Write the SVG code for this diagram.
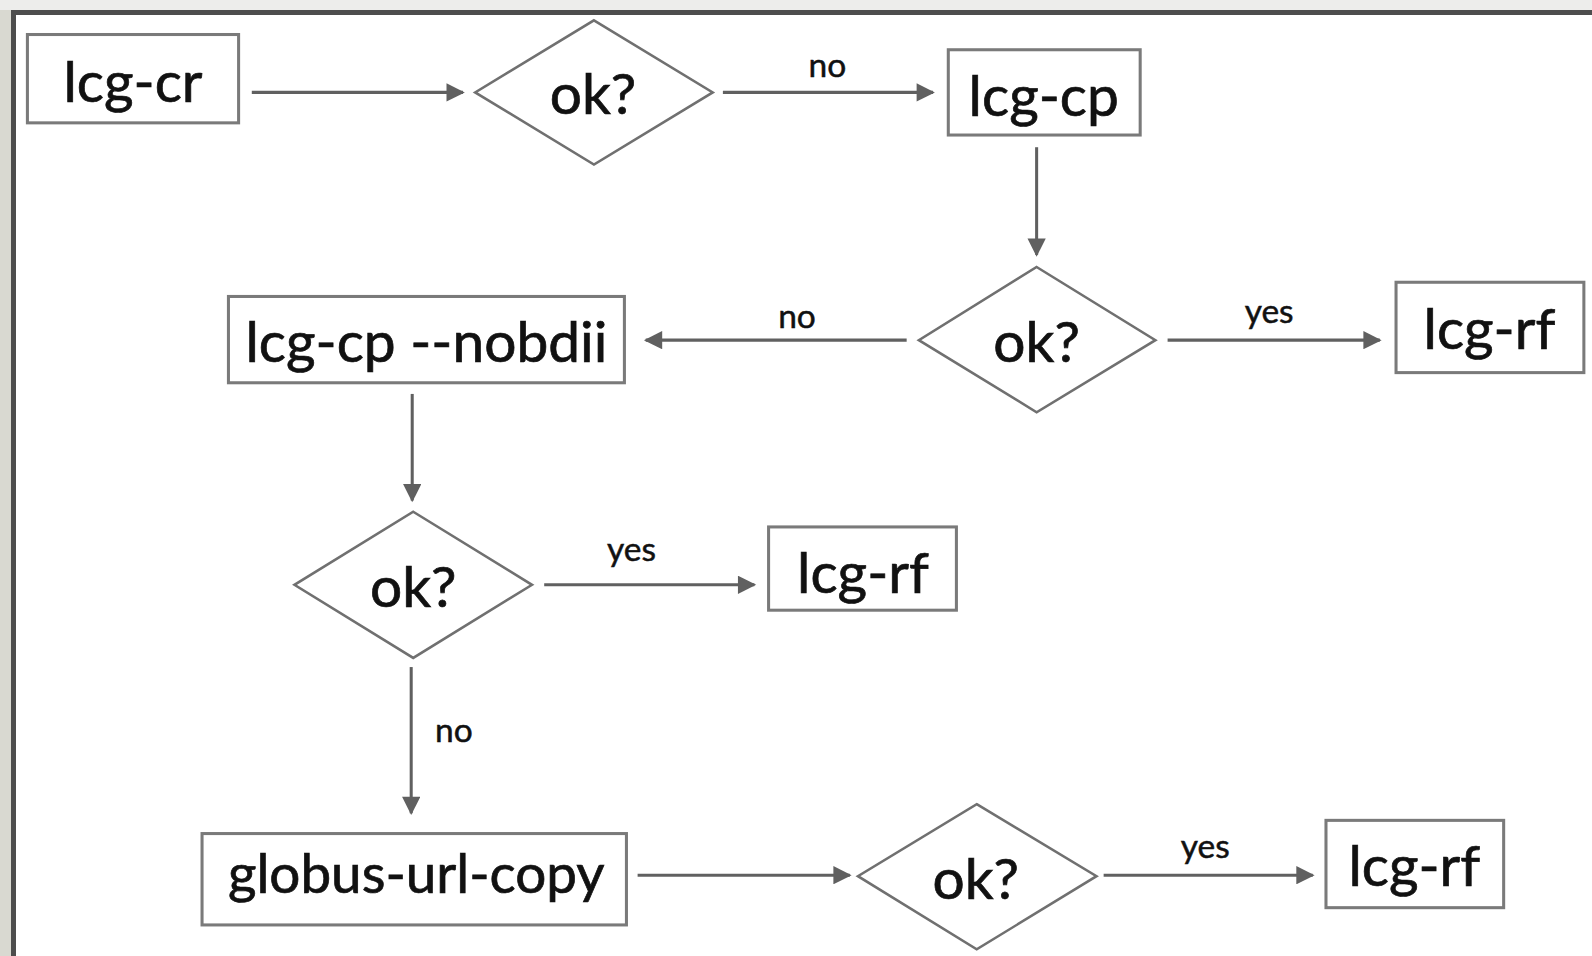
<svg xmlns="http://www.w3.org/2000/svg" width="1592" height="956" viewBox="0 0 1592 956">
<defs>
<marker id="ah" viewBox="0 0 10 10" refX="9" refY="5" markerWidth="6.5" markerHeight="6" orient="auto" markerUnits="strokeWidth">
<path d="M0,0 L10,5 L0,10 z" fill="#606060"/>
</marker>
</defs>
<style>
.box{fill:#fff;stroke:#7a7a7a;stroke-width:3}
.dia{fill:#fff;stroke:#707070;stroke-width:2.5}
.t{font-family:Lato,"Open Sans","Liberation Sans",sans-serif;font-size:56px;fill:#111;stroke:#111;stroke-width:0.7;text-anchor:middle}
.l{font-family:Lato,"Open Sans","Liberation Sans",sans-serif;font-size:33px;fill:#111;stroke:#111;stroke-width:0.5;text-anchor:middle}
.c{stroke:#606060;stroke-width:3;fill:none;marker-end:url(#ah)}
</style>
<rect x="0" y="0" width="1592" height="956" fill="#d9d9d1"/>
<rect x="0" y="0" width="1592" height="10" fill="#ededeb"/>
<rect x="11" y="10" width="1581" height="946" fill="#4d4d4d"/>
<rect x="16" y="15" width="1576" height="941" fill="#ffffff"/>
<g transform="scale(1.0153)">
<g id="connectors">
<line class="c" x1="248" y1="91" x2="456" y2="91"/>
<line class="c" x1="712" y1="91" x2="919" y2="91"/>
<text class="l" x="815" y="76">no</text>
<line class="c" x1="1021" y1="145" x2="1021" y2="251"/>
<line class="c" x1="893" y1="335" x2="636" y2="335"/>
<text class="l" x="785" y="323">no</text>
<line class="c" x1="1150" y1="335" x2="1359" y2="335"/>
<text class="l" x="1250" y="318">yes</text>
<line class="c" x1="406" y1="388" x2="406" y2="493"/>
<line class="c" x1="536" y1="576" x2="743" y2="576"/>
<text class="l" x="622" y="553">yes</text>
<line class="c" x1="405" y1="657" x2="405" y2="801"/>
<text class="l" x="447" y="731">no</text>
<line class="c" x1="628" y1="862" x2="837" y2="862"/>
<line class="c" x1="1087" y1="862" x2="1293" y2="862"/>
<text class="l" x="1187" y="845">yes</text>
</g>
<g id="n-lcg-cr"><rect class="box" x="27" y="34" width="208" height="87"/><text class="t" x="131" y="100">lcg-cr</text></g>
<g id="d1"><polygon class="dia" points="585,20 702,91 585,162 468,91"/><text class="t" x="584" y="112">ok?</text></g>
<g id="n-lcg-cp"><rect class="box" x="934" y="49" width="189" height="84"/><text class="t" x="1028" y="114">lcg-cp</text></g>
<g id="d2"><polygon class="dia" points="1021,263 1138,335 1021,406 905,335"/><text class="t" x="1021" y="357">ok?</text></g>
<g id="n-rf1"><rect class="box" x="1375" y="278" width="185" height="89"/><text class="t" x="1467" y="344">lcg-rf</text></g>
<g id="n-nobdii"><rect class="box" x="225" y="292" width="390" height="85"/><text class="t" x="420" y="357">lcg-cp --nobdii</text></g>
<g id="d3"><polygon class="dia" points="407,504 524,576 407,648 290,576"/><text class="t" x="407" y="598">ok?</text></g>
<g id="n-rf2"><rect class="box" x="757" y="519" width="185" height="82"/><text class="t" x="850" y="584">lcg-rf</text></g>
<g id="n-globus"><rect class="box" x="199" y="821" width="418" height="90"/><text class="t" x="410" y="880" style="font-size:54px">globus-url-copy</text></g>
<g id="d4"><polygon class="dia" points="962,792 1080,863 962,935 845,863"/><text class="t" x="961" y="885">ok?</text></g>
<g id="n-rf3"><rect class="box" x="1306" y="808" width="175" height="86"/><text class="t" x="1393" y="873">lcg-rf</text></g>
</g>
</svg>
